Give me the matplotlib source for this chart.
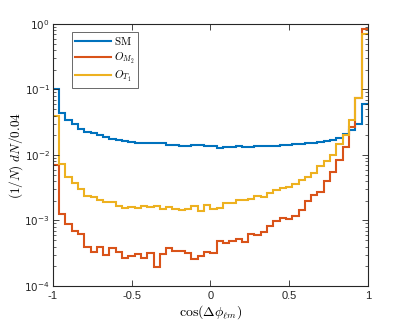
import matplotlib
matplotlib.use('Agg')
import matplotlib.pyplot as plt
import numpy as np
from matplotlib.ticker import FixedLocator, LogLocator, FuncFormatter, NullFormatter
from matplotlib.font_manager import FontProperties

# 50 bins of width 0.04 on [-1, 1]
bin_edges = np.linspace(-1, 1, 51)

sm = [0.103, 0.0438, 0.0342, 0.0294, 0.0252, 0.0227, 0.0214, 0.0200, 0.0188, 0.0177,
      0.0169, 0.0164, 0.0158, 0.0154, 0.0152, 0.0152, 0.0154, 0.0151, 0.0144, 0.0144,
      0.0138, 0.0138, 0.0142, 0.0142, 0.0136, 0.0137, 0.0129, 0.0132, 0.0132, 0.0138,
      0.0134, 0.0131, 0.0136, 0.0136, 0.0138, 0.0138, 0.0140, 0.0142, 0.0145, 0.0147,
      0.0150, 0.0155, 0.0160, 0.0165, 0.0169, 0.0184, 0.0207, 0.0241, 0.0294, 0.0600]

o_m2 = [0.0071, 0.00124, 0.000895, 0.000684, 0.000622, 0.000399, 0.000334, 0.000389, 0.000294, 0.00038,
        0.00033, 0.000264, 0.00029, 0.000312, 0.000271, 0.000323, 0.000197, 0.000308, 0.000385, 0.000339,
        0.000339, 0.000323, 0.000258, 0.000287, 0.000326, 0.000323, 0.000487, 0.000449, 0.000487, 0.000515,
        0.000475, 0.000622, 0.000601, 0.000667, 0.000815, 0.000982, 0.00108, 0.00107, 0.00119, 0.00145,
        0.00196, 0.00245, 0.00269, 0.00405, 0.00556, 0.0084, 0.0134, 0.0271, 0.074, 0.83]

o_t1 = [0.039, 0.0072, 0.00467, 0.00378, 0.00303, 0.00239, 0.00228, 0.00206, 0.00190, 0.00192,
        0.00165, 0.00155, 0.00160, 0.00155, 0.00168, 0.00160, 0.00166, 0.00152, 0.00161, 0.00148,
        0.00145, 0.00152, 0.00164, 0.00140, 0.00171, 0.00152, 0.00157, 0.00187, 0.00183, 0.00208,
        0.00208, 0.00215, 0.00234, 0.00228, 0.00266, 0.00289, 0.00310, 0.00329, 0.00365, 0.00410,
        0.00467, 0.00525, 0.00687, 0.00819, 0.0101, 0.0146, 0.0202, 0.0342, 0.074, 0.70]

labels = [r'$\mathrm{SM}$', r'$O_{M_2}$', r'$O_{T_1}$']
colors = ['#0072BD', '#D95319', '#EDB120']

plt.rcParams['font.family'] = ['Liberation Sans', 'DejaVu Sans']
plt.rcParams['font.size'] = 8

fig = plt.figure(figsize=(4.07, 3.26), dpi=100)
ax = fig.add_axes([0.1295, 0.1227, 0.7745, 0.8037])

for vals, lab, c in zip([sm, o_m2, o_t1], labels, colors):
    ax.stairs(vals, bin_edges, baseline=None, color=c, lw=1.5, label=lab)

ax.set_xlim(-1, 1)
ax.set_yscale('log')
ax.set_ylim(1e-4, 1e0)

ax.xaxis.set_major_locator(FixedLocator([-1, -0.5, 0, 0.5, 1]))
ax.xaxis.set_major_formatter(FuncFormatter(lambda v, p: '%g' % v))
ax.yaxis.set_major_locator(LogLocator(base=10, numticks=10))
ax.yaxis.set_minor_locator(LogLocator(base=10, subs=np.arange(2, 10), numticks=20))
ax.yaxis.set_minor_formatter(NullFormatter())
ax.yaxis.set_major_formatter(FuncFormatter(lambda v, p: r'$10^{%d}$' % round(np.log10(v))))

gray = '#262626'
for s in ax.spines.values():
    s.set_color(gray)
    s.set_linewidth(0.8)
ax.tick_params(which='both', direction='in', top=True, right=True, colors=gray, labelcolor=gray)
ax.tick_params(which='major', length=4, width=0.6, labelsize=8)
ax.tick_params(axis='y', which='major', labelsize=7.5, pad=2)
ax.tick_params(which='minor', length=2, width=0.5)

ax.set_xlabel(r'$\cos(\Delta\phi_{\ell m})$', fontsize=10, math_fontfamily='cm', labelpad=2)
ax.set_ylabel(r'$(1/N)\ dN/0.04$', fontsize=9.5, math_fontfamily='cm')
ax.yaxis.set_label_coords(-0.088, 0.5)

leg = ax.legend(loc='upper left', bbox_to_anchor=(0.06, 0.97), borderaxespad=0,
                prop=FontProperties(size=8, math_fontfamily='cm'),
                fancybox=False, handlelength=3.2, handletextpad=0.3,
                labelspacing=0.3, borderpad=0.3)
leg.get_frame().set_edgecolor(gray)
leg.get_frame().set_linewidth(0.6)

fig.savefig('out.png', dpi=100)
